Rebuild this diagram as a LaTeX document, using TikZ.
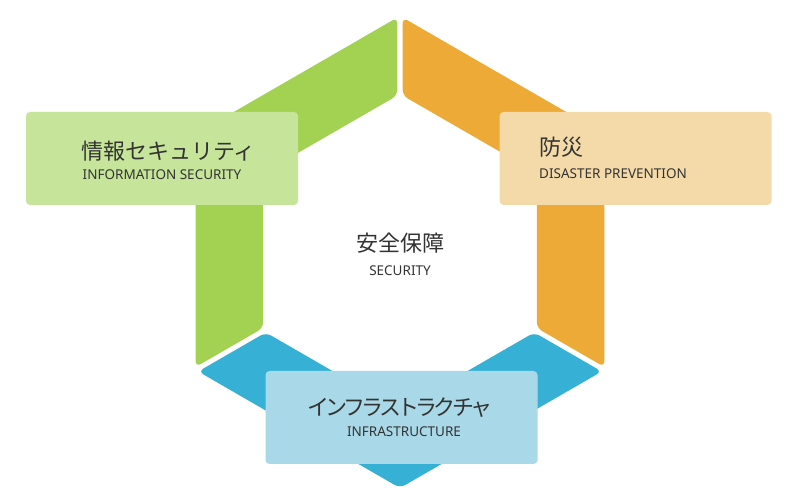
\documentclass[tikz,border=0pt]{standalone}
\usepackage{fontspec}
\setmainfont{Noto Sans CJK JP}
\newfontfamily\enfont{Noto Sans}
\newfontfamily\jptight[LetterSpace=-17]{Noto Sans CJK JP}
\definecolor{greenseg}{HTML}{A3D152}
\definecolor{greenbox}{HTML}{C6E59A}
\definecolor{orangeseg}{HTML}{EDAA36}
\definecolor{orangebox}{HTML}{F5DAA9}
\definecolor{blueseg}{HTML}{37B0D6}
\definecolor{bluebox}{HTML}{A9D9E8}
\definecolor{txt}{HTML}{333333}
\begin{document}
\begin{tikzpicture}[x=1pt,y=1pt,
  seg/.style={rounded corners=6pt},
  box/.style={rounded corners=4pt, minimum width=272pt, minimum height=93pt, inner sep=0pt, draw=none},
  jp/.style={font=\fontsize{22}{26}\selectfont, text=txt, inner sep=0pt},
  en/.style={font=\enfont\fontsize{13.5}{16}\selectfont, text=txt, inner sep=0pt}]
\useasboundingbox (0,0) rectangle (800,500);
\fill[white] (0,0) rectangle (800,500);
% ring segments (same shape rotated by 120 degrees)
\foreach \ang/\col in {0/blueseg, -120/greenseg, 120/orangeseg}{
  \fill[\col, seg, shift={(400,248)}, rotate=\ang]
    (-201.8,-119.5) -- (0,-236) -- (201.8,-119.5) -- (134.2,-80.5)
    -- (0,-158) -- (-134.2,-80.5) -- cycle;
}
% boxes
\node[box, fill=greenbox]  (gbox) at (162,341.5) {};
\node[box, fill=orangebox] (obox) at (635.5,341.5) {};
\node[box, fill=bluebox]   (bbox) at (401.5,82.5) {};
% texts
\node[jp, anchor=west] (gjp) at (81,349) {情報セキュリティ};
\node[en] (gen) at (162,325) {INFORMATION SECURITY};
\node[jp, anchor=west] (ojp) at (539,353) {防災};
\node[en, anchor=west] (oen) at (539,326) {DISASTER PREVENTION};
\node[jp, font=\jptight\fontsize{22}{26}\selectfont, anchor=west] (bjp) at (307,92) {インフラストラクチャ};
\node[en] (ben) at (404,68) {INFRASTRUCTURE};
\node[jp] (cjp) at (400,257) {安全保障};
\node[en] (cen) at (400,229) {SECURITY};
\end{tikzpicture}
\end{document}
